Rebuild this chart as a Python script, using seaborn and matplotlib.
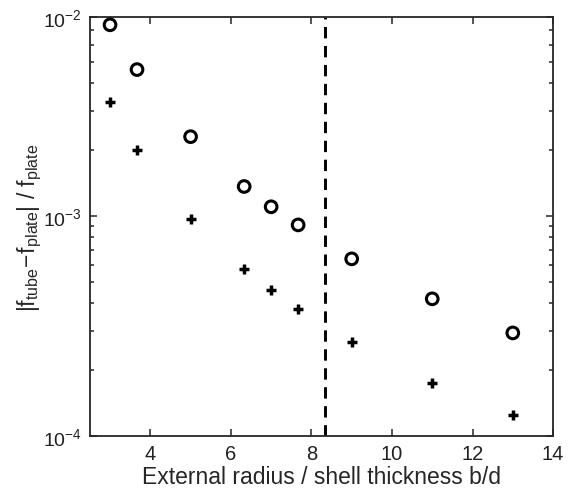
import numpy as np
import pandas as pd
import matplotlib
matplotlib.use("Agg")
import matplotlib.pyplot as plt
import seaborn as sns

# --- Data ---
ratio_bd = [3.0, 3.67, 5.0, 6.33, 7.0, 7.67, 9.0, 11.0, 13.0]
err_circle = [7.38e-3, 4.62e-3, 2.29e-3, 1.36e-3, 1.10e-3, 0.91e-3, 0.638e-3, 0.42e-3, 0.294e-3]
err_plus = [3.29e-3, 2.0e-3, 0.97e-3, 0.574e-3, 0.462e-3, 0.378e-3, 0.268e-3, 0.174e-3, 0.124e-3]
threshold_bd = 8.33

x_ticks = [4, 6, 8, 10, 12, 14]
y_ticks = [1e-4, 1e-3, 8e-3]
y_ticklabels = [r"$10^{-4}$", r"$10^{-3}$", r"$10^{-2}$"]

df = pd.DataFrame({"bd": ratio_bd, "circle": err_circle, "plus": err_plus})

# --- Style ---
sns.set_style("ticks")
plt.rcParams["font.family"] = ["Liberation Sans", "DejaVu Sans"]
plt.rcParams["mathtext.fontset"] = "custom"
plt.rcParams["mathtext.rm"] = "Liberation Sans"
plt.rcParams["mathtext.it"] = "Liberation Sans"
plt.rcParams["axes.linewidth"] = 1.3
plt.rcParams["text.color"] = "#222222"
plt.rcParams["xtick.labelcolor"] = "#222222"
plt.rcParams["ytick.labelcolor"] = "#222222"

fig = plt.figure(figsize=(5.69, 4.89), dpi=100)
ax = fig.add_axes([0.158, 0.1063, 0.814, 0.8567])

sns.scatterplot(data=df, x="bd", y="circle", ax=ax, marker="o", s=70,
                facecolor="none", edgecolor="black", linewidth=2.2, zorder=3)
sns.scatterplot(data=df, x="bd", y="plus", ax=ax, marker="+", s=55,
                color="black", linewidth=2.5, zorder=3)
ax.axvline(threshold_bd, color="black", linestyle=(0, (3.9, 2.6)), linewidth=2.1)

ax.set_yscale("log")
ax.set_xlim(2.5, 14)
ax.set_ylim(1e-4, 8e-3)
ax.set_xticks(x_ticks)
ax.set_yticks(y_ticks)
ax.set_yticklabels(y_ticklabels)
ax.yaxis.set_minor_locator(matplotlib.ticker.LogLocator(base=10, subs=np.arange(2, 10)))
ax.yaxis.set_minor_formatter(matplotlib.ticker.NullFormatter())

ax.tick_params(which="both", direction="in", top=True, right=True, labelsize=14.5, width=1.1)
ax.tick_params(which="major", length=5, pad=6)
ax.tick_params(axis="y", labelsize=14)
ax.tick_params(which="minor", length=3)
for s in ax.spines.values():
    s.set_visible(True)

ax.set_xlabel("External radius / shell thickness b/d", fontsize=16.5, labelpad=1)
ax.set_ylabel(r"$|\mathrm{f}_{\mathrm{tube}}\!-\!\mathrm{f}_{\mathrm{plate}}|\ /\ \mathrm{f}_{\mathrm{plate}}$",
              fontsize=16.5, labelpad=-1)

fig.savefig("out.png", dpi=100)
